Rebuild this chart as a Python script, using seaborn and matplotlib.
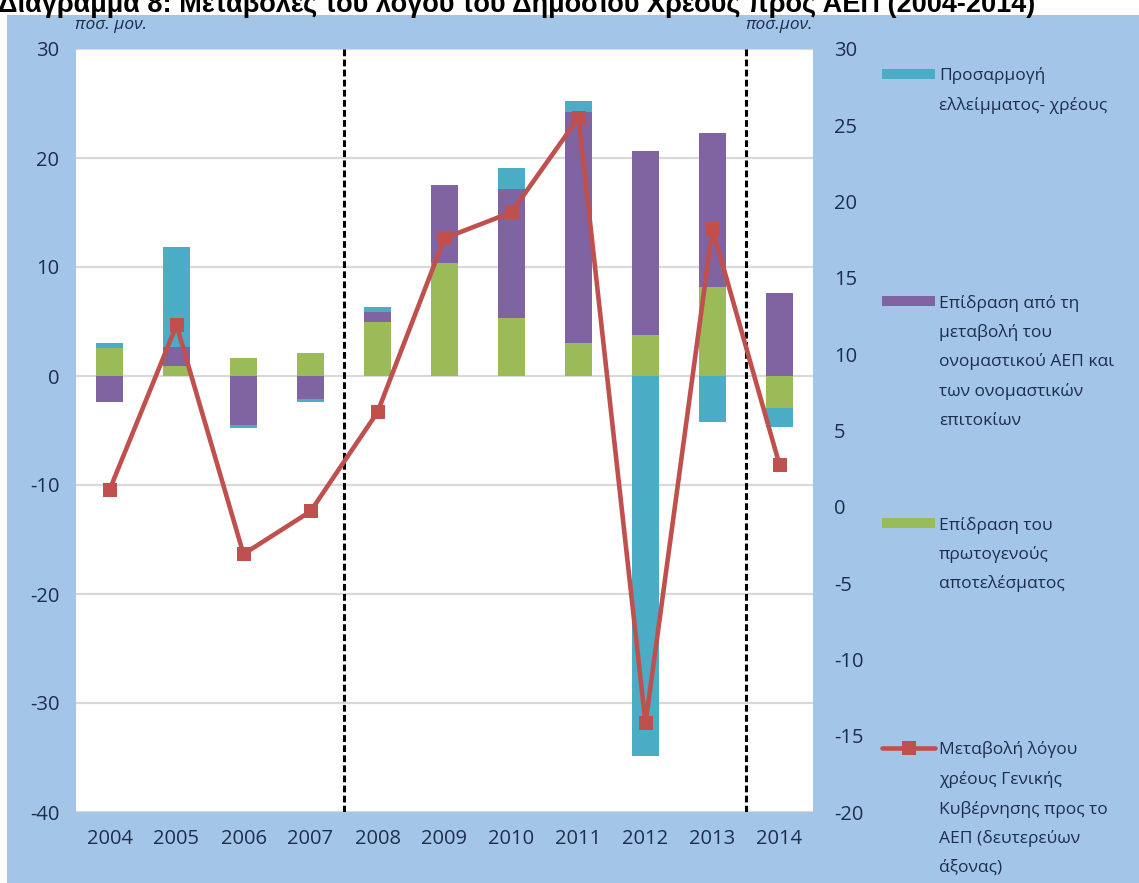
import numpy as np
import matplotlib
matplotlib.use("Agg")
import matplotlib.pyplot as plt
import seaborn as sns
from matplotlib.patches import Rectangle
from matplotlib.lines import Line2D

# ---- data (percentage points of GDP) ----
years = ["2004", "2005", "2006", "2007", "2008", "2009", "2010", "2011", "2012", "2013", "2014"]
primary_effect = [2.6, 0.9, 1.65, 2.1, 4.95, 10.4, 5.3, 3.0, 3.8, 8.2, -2.9]
nominal_gdp_effect = [-2.4, 1.8, -4.5, -2.1, 0.9, 7.1, 11.9, 21.2, 16.8, 14.1, 7.6]
deficit_debt_adj = [0.45, 9.1, -0.3, -0.3, 0.45, 0.0, 1.9, 1.0, -34.9, -4.2, -1.8]
debt_ratio_change = [1.1, 11.9, -3.1, -0.3, 6.2, 17.6, 19.3, 25.5, -14.2, 18.2, 2.75]

left_ticks = [30, 20, 10, 0, -10, -20, -30, -40]
right_ticks = [30, 25, 20, 15, 10, 5, 0, -5, -10, -15, -20]

title = "Διάγραμμα 8: Μεταβολές του λόγου του Δημόσιου Χρέους προς ΑΕΠ (2004-2014)"
unit_label = "ποσ. μον."
unit_label_right = "ποσ.μον."
legend_labels = [
    "Προσαρμογή\nελλείμματος- χρέους",
    "Επίδραση από τη\nμεταβολή του\nονομαστικού ΑΕΠ και\nτων ονομαστικών\nεπιτοκίων",
    "Επίδραση του\nπρωτογενούς\nαποτελέσματος",
    "Μεταβολή λόγου\nχρέους Γενικής\nΚυβέρνησης προς το\nΑΕΠ (δευτερεύων\nάξονας)",
]

# ---- colours ----
CYAN = "#4BACC6"
PURPLE = "#8064A2"
GREEN = "#9BBB59"
RED = "#C0504D"
PANEL = "#A3C6E8"
TEXT = "#1F2D4D"

sns.set_theme(style="white")
plt.rcParams["font.family"] = ["Open Sans", "DejaVu Sans"]

W, H = 1139, 883
fig = plt.figure(figsize=(W / 100, H / 100), dpi=100)
fig.patch.set_facecolor(PANEL)

# white band behind the title and a thin white strip on the left
fig.add_artist(Rectangle((0, 1 - 15 / H), 1, 15 / H, transform=fig.transFigure,
                         facecolor="white", edgecolor="none", zorder=0))
fig.add_artist(Rectangle((0, 0), 7 / W, 1, transform=fig.transFigure,
                         facecolor="white", edgecolor="none", zorder=0))

left, right, top, bottom = 76, 813, 49, 812
ax = fig.add_axes([left / W, 1 - bottom / H, (right - left) / W, (bottom - top) / H])
ax.set_facecolor("white")

x = np.arange(len(years))
bar_w = 0.39

# stacked bars: positives stack upward, negatives downward, in series order
pos_base = np.zeros(len(years))
neg_base = np.zeros(len(years))
for vals, col in [(primary_effect, GREEN), (nominal_gdp_effect, PURPLE), (deficit_debt_adj, CYAN)]:
    v = np.asarray(vals, dtype=float)
    base = np.where(v >= 0, pos_base, neg_base)
    ax.bar(x, v, bottom=base, width=bar_w, color=col, linewidth=0, zorder=2)
    pos_base = pos_base + np.clip(v, 0, None)
    neg_base = neg_base + np.clip(v, None, 0)

ax.set_xlim(-0.5, len(years) - 0.5)
ax.set_ylim(-40, 30)
ax.set_yticks(left_ticks)
ax.set_yticklabels([str(t) for t in left_ticks])
ax.set_xticks(x)
ax.set_xticklabels(years)
ax.set_axisbelow(True)
ax.yaxis.grid(True, color="#D9D9D9", linewidth=1.6)
ax.xaxis.grid(False)
for s in ax.spines.values():
    s.set_visible(False)
ax.tick_params(axis="y", length=0, pad=12, labelsize=14.5, labelcolor=TEXT)
ax.tick_params(axis="x", length=0, pad=12, labelsize=14.5, labelcolor=TEXT)

# period separators
for xv in (3.5, 9.5):
    ax.axvline(xv, color="black", linewidth=2.2, linestyle=(0, (2.2, 1.1)), zorder=3)

# debt ratio change on the secondary axis
ax2 = ax.twinx()
sns.lineplot(x=x, y=debt_ratio_change, ax=ax2, color=RED, linewidth=3.3,
             marker="s", markersize=10, markeredgewidth=0, zorder=4)
ax2.set_ylim(-20, 30)
ax2.set_yticks(right_ticks)
ax2.set_yticklabels([str(t) for t in right_ticks])
ax2.grid(False)
for s in ax2.spines.values():
    s.set_visible(False)
ax2.tick_params(axis="y", length=0, pad=15, labelsize=14.5, labelcolor=TEXT)

# title (partly above the top edge) and unit labels
fig.text(-0.002, 1 - 12.5 / H, title, ha="left", va="baseline", fontsize=19.5,
         fontweight="bold", family=["Liberation Sans", "DejaVu Sans"], color="black")
fig.text(75 / W, 1 - 25 / H, unit_label, ha="left", va="center", fontsize=12.5,
         style="italic", color=TEXT)
fig.text(745 / W, 1 - 25 / H, unit_label_right, ha="left", va="center", fontsize=12.5,
         style="italic", color=TEXT)

# legend on the right
key_x0, key_x1, text_x = 882, 935, 939
line_gap = 29.5
entries = [(74, CYAN, "bar"), (301, PURPLE, "bar"), (523, GREEN, "bar"), (748, RED, "line")]
for (ky, col, kind), label in zip(entries, legend_labels):
    if kind == "bar":
        fig.add_artist(Rectangle((key_x0 / W, 1 - (ky + 5) / H), (key_x1 - key_x0) / W, 10 / H,
                                 transform=fig.transFigure, facecolor=col, edgecolor="none"))
    else:
        fig.add_artist(Line2D([key_x0 / W, key_x1 / W], [1 - ky / H, 1 - ky / H],
                              transform=fig.transFigure, color=col, linewidth=3.3))
        fig.add_artist(Line2D([(key_x0 + key_x1) / 2 / W], [1 - ky / H], transform=fig.transFigure,
                              color=col, marker="s", markersize=10, markeredgewidth=0))
    for i, ln in enumerate(label.split("\n")):
        fig.text(text_x / W, 1 - (ky + 2 + i * line_gap) / H, ln, ha="left", va="center",
                 fontsize=12.5, color=TEXT)

fig.savefig("out.png", dpi=100, facecolor=fig.get_facecolor())
